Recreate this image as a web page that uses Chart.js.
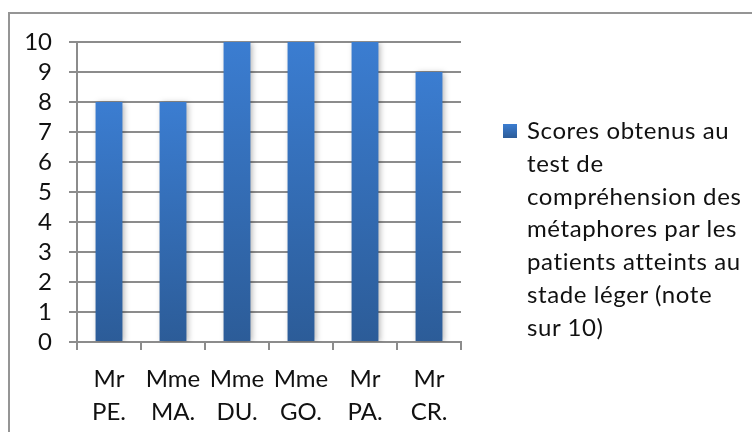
<!DOCTYPE html>
<html>
<head>
<meta charset="utf-8">
<script src="https://cdn.jsdelivr.net/npm/chart.js@4"></script>
<style>
  html, body { margin: 0; padding: 0; background: #fff; }
  #wrap { position: relative; width: 752px; height: 432px; overflow: hidden; }
  #frame {
    position: absolute; left: 8px; top: 12px; width: 800px; height: 500px;
    border-top: 2px solid #959595; border-left: 2px solid #959595;
  }
  canvas { position: absolute; left: 0; top: 0; }
  #legend {
    position: absolute; left: 503px; top: 114px;
    font-family: Lato, sans-serif; font-size: 24px; line-height: 32.8px; color: #111;
  }
  #legend .box {
    position: absolute; left: 0; top: 10px; width: 14px; height: 14px;
    background: linear-gradient(#3b7dd1, #2c5c98);
  }
  #legend .txt { margin-left: 24px; white-space: nowrap; letter-spacing: 0.6px; }
</style>
</head>
<body>
<div id="wrap">
  <div id="frame"></div>
  <canvas id="chart" width="752" height="432"></canvas>
  <div id="legend"><div class="box"></div><div class="txt" id="legendText"></div></div>
</div>
<script>
const categories = [["Mr", "PE."], ["Mme", "MA."], ["Mme", "DU."], ["Mme", "GO."], ["Mr", "PA."], ["Mr", "CR."]];
const scores = [8, 8, 10, 10, 10, 9];
const yMin = 0;
const yMax = 10;
const yStep = 1;
const legendLines = [
  "Scores obtenus au",
  "test de",
  "compréhension des",
  "métaphores par les",
  "patients atteints au",
  "stade léger (note",
  "sur 10)"
];

document.getElementById("legendText").innerHTML = legendLines.join("<br>");

const gridColor = "#8c8c8c";
const font = { family: "Lato, sans-serif", size: 24, lineHeight: 1.375 };

// shadow under the bars, like the office chart
const barShadow = {
  id: "barShadow",
  beforeDatasetsDraw(chart) {
    const ctx = chart.ctx;
    ctx.save();
    ctx.shadowColor = "rgba(0,0,0,0.3)";
    ctx.shadowBlur = 6;
    ctx.shadowOffsetX = 2;
    ctx.shadowOffsetY = 1;
  },
  afterDatasetsDraw(chart) {
    chart.ctx.restore();
  }
};

function barGradient(context) {
  const chart = context.chart;
  const y = chart.scales.y;
  if (!chart.chartArea || !y || context.raw === undefined) return "#3570bd";
  const top = y.getPixelForValue(context.raw);
  const bottom = y.getPixelForValue(0);
  const g = chart.ctx.createLinearGradient(0, top, 0, bottom);
  g.addColorStop(0, "#3b7dd1");
  g.addColorStop(1, "#2c5c98");
  return g;
}

new Chart(document.getElementById("chart"), {
  type: "bar",
  data: {
    labels: categories,
    datasets: [{
      label: legendLines.join(" "),
      data: scores,
      backgroundColor: barGradient,
      borderWidth: 0,
      categoryPercentage: 1,
      barPercentage: 0.42
    }]
  },
  options: {
    responsive: false,
    animation: false,
    layout: { padding: { left: 0, top: 42, right: 291, bottom: 0 } },
    plugins: {
      legend: { display: false },
      tooltip: { enabled: false }
    },
    scales: {
      x: {
        afterFit: (scale) => { scale.height = 90; },
        grid: { drawOnChartArea: false, color: gridColor, lineWidth: 2, tickLength: 8 },
        border: { color: gridColor, width: 2 },
        ticks: { color: "#111", font, padding: 13, maxRotation: 0, autoSkip: false }
      },
      y: {
        min: yMin,
        max: yMax,
        afterFit: (scale) => { scale.width = 77; },
        grid: { color: gridColor, lineWidth: 2, tickLength: 8 },
        border: { color: gridColor, width: 2 },
        ticks: { stepSize: yStep, color: "#111", font, padding: 17, autoSkip: false }
      }
    }
  },
  plugins: [barShadow]
});
</script>
</body>
</html>
